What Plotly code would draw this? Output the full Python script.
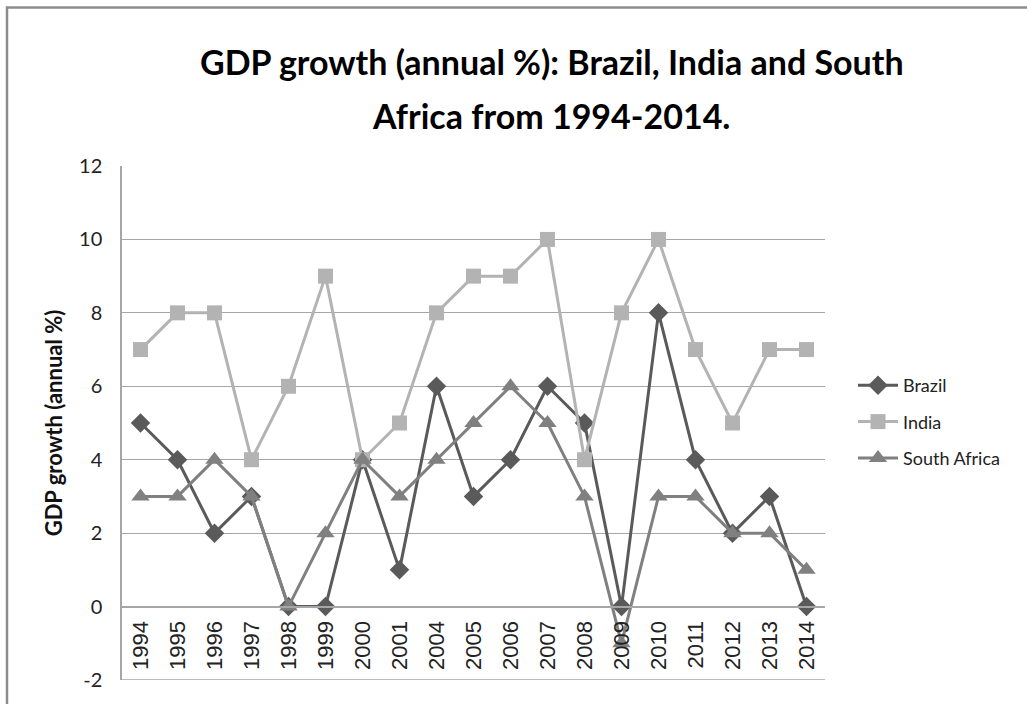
import plotly.graph_objects as go

years = ["1994", "1995", "1996", "1997", "1998", "1999", "2000", "2001", "2004", "2005",
         "2006", "2007", "2008", "2009", "2010", "2011", "2012", "2013", "2014"]
brazil = [5, 4, 2, 3, 0, 0, 4, 1, 6, 3, 4, 6, 5, 0, 8, 4, 2, 3, 0]
india = [7, 8, 8, 4, 6, 9, 4, 5, 8, 9, 9, 10, 4, 8, 10, 7, 5, 7, 7]
south_africa = [3, 3, 4, 3, 0, 2, 4, 3, 4, 5, 6, 5, 3, -1, 3, 3, 2, 2, 1]
y_ticks = [-2, 0, 2, 4, 6, 8, 10, 12]
y_tick_labels = ["-2", "0", "2", "4", "6", "8", "10", "12"]

W, H = 1027, 704
# plot area in page pixels: x 122..825, y 166..680
L, T = 122, 166
R = W - 825
B = H - 680
PW, PH = W - L - R, H - T - B
YMIN, YMAX = -2, 12

def px(x):  # page x -> paper
    return (x - L) / PW

def py(y):  # page y -> paper
    return 1 - (y - T) / PH

fig = go.Figure()
series = [
    ("Brazil", brazil, "#5a5a5a", "diamond", 15),
    ("India", india, "#b3b3b3", "square", 15),
    ("South Africa", south_africa, "#808080", "triangle-up", 16),
]
for i, (name, vals, col, sym, sz) in enumerate(series):
    fig.add_trace(go.Scatter(
        x=years, y=vals, name=name, mode="lines+markers",
        line=dict(color=col, width=3),
        marker=dict(symbol=sym, size=sz, color=col, line=dict(width=0)),
        legendgroup=f"g{i}",
    ))

fig.update_layout(
    width=W, height=H,
    margin=dict(l=L, r=R, t=T, b=B, autoexpand=False),
    paper_bgcolor="white", plot_bgcolor="white",
    font=dict(family="Lato, Liberation Sans, sans-serif", color="#222"),
    showlegend=True,
    legend=dict(x=px(853), xanchor="left", y=py(422), yanchor="middle",
                font=dict(size=18, family="Lato, sans-serif", color="#222"),
                tracegroupgap=10, itemwidth=40, bgcolor="rgba(0,0,0,0)"),
    xaxis=dict(type="category", range=[-0.5, 18.5], anchor="free",
               position=(0 - YMIN) / (YMAX - YMIN),
               showline=True, linecolor="#a6a6a6", linewidth=1.5,
               showgrid=False, ticks="", tickangle=-90,
               tickfont=dict(size=22, family="Liberation Sans, Arial, sans-serif", color="#222"),
               ticklabelstandoff=5),
    yaxis=dict(range=[YMIN, YMAX], tickmode="array", tickvals=y_ticks, ticktext=y_tick_labels,
               showgrid=True, gridcolor="#a6a6a6", gridwidth=1.2,
               zeroline=False, showline=True, linecolor="#a6a6a6", linewidth=1.5,
               ticks="", tickfont=dict(size=20, family="Lato, sans-serif", color="#222"),
               ticklabelstandoff=14,
               title=dict(text="<b>GDP growth (annual %)</b>",
                          font=dict(size=22, family="Lato, sans-serif", color="#111"),
                          standoff=10)),
    shapes=[
        dict(type="line", xref="paper", yref="y", x0=0, x1=1, y0=YMIN, y1=YMIN,
             line=dict(color="#a6a6a6", width=1.5)),
        dict(type="rect", xref="paper", yref="paper", x0=px(7), x1=px(1040),
             y0=py(720), y1=py(7.5), line=dict(color="#8c8c8c", width=2.5)),
    ],
    annotations=[
        dict(text="<b>GDP growth (annual %): Brazil, India and South</b>",
             xref="paper", yref="paper", x=px(552), y=py(61), xanchor="center", yanchor="middle",
             showarrow=False, font=dict(size=34, family="Lato, sans-serif", color="#000")),
        dict(text="<b>Africa from 1994-2014.</b>",
             xref="paper", yref="paper", x=px(551), y=py(116), xanchor="center", yanchor="middle",
             showarrow=False, font=dict(size=34, family="Lato, sans-serif", color="#000")),
    ],
)

fig.write_html("out.html", config={"displayModeBar": False},
               post_script="document.body.style.margin='0';document.body.style.overflow='hidden';")
